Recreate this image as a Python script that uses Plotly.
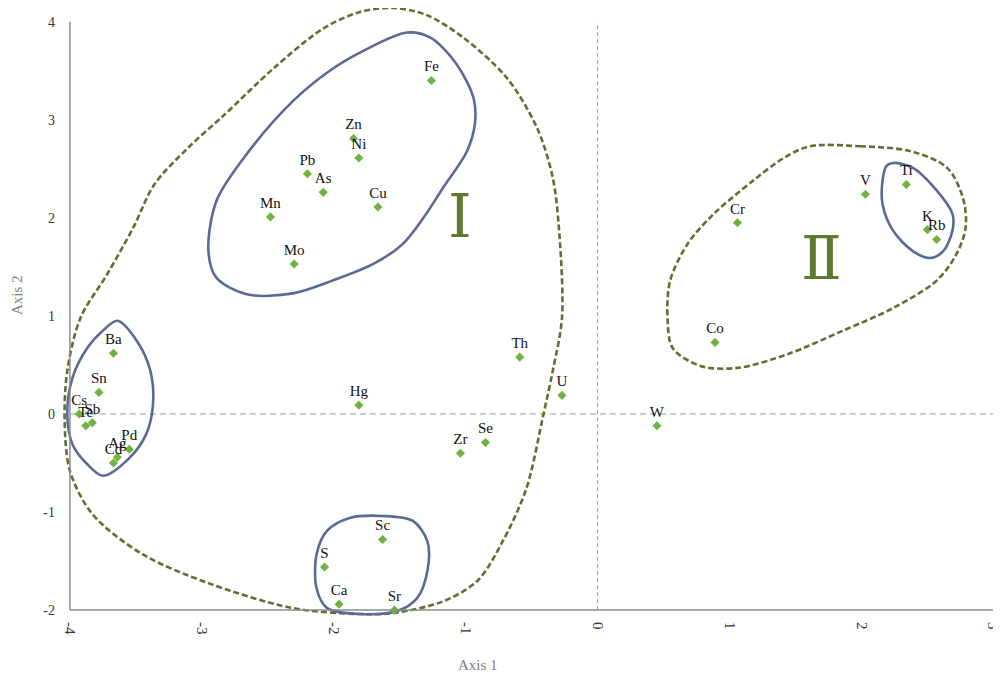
import plotly.graph_objects as go

# Element scores on the first two axes
elements = ['Fe', 'Zn', 'Ni', 'Pb', 'As', 'Cu', 'Mn', 'Mo',
            'Ba', 'Sn', 'Cs', 'Te', 'Sb', 'Pd', 'Ag', 'Cd',
            'Hg', 'Th', 'U', 'Zr', 'Se', 'W',
            'Sc', 'S', 'Ca', 'Sr',
            'Co', 'Cr', 'V', 'Ti', 'K', 'Rb']
axis1 = [-1.26, -1.85, -1.81, -2.20, -2.08, -1.665, -2.48, -2.30,
         -3.67, -3.78, -3.93, -3.88, -3.83, -3.55, -3.64, -3.67,
         -1.81, -0.59, -0.27, -1.04, -0.85, 0.45,
         -1.63, -2.07, -1.96, -1.54,
         0.89, 1.06, 2.03, 2.34, 2.50, 2.57]
axis2 = [3.40, 2.81, 2.61, 2.45, 2.26, 2.11, 2.01, 1.53,
         0.62, 0.22, 0.00, -0.12, -0.09, -0.36, -0.44, -0.50,
         0.09, 0.58, 0.19, -0.40, -0.29, -0.12,
         -1.28, -1.56, -1.94, -2.00,
         0.73, 1.95, 2.24, 2.34, 1.88, 1.78]

# Group outlines (control points, axis units)
group1_x = [-1.55, -1.30, -1.02, -0.69, -0.46, -0.34, -0.29, -0.27, -0.34, -0.41,
            -0.54, -0.72, -0.91, -1.17, -1.55, -1.80, -2.31, -2.94, -3.45, -3.83,
            -4.00, -4.04, -4.02, -3.92, -3.72, -3.52, -3.36, -3.10, -2.83,
            -2.46, -2.08, -1.80]
group1_y = [4.14, 4.07, 3.84, 3.43, 2.92, 2.41, 1.84, 0.98, 0.44, 0.00,
            -0.76, -1.30, -1.70, -1.91, -2.03, -2.04, -1.98, -1.73, -1.43, -1.02,
            -0.58, -0.07, 0.44, 0.98, 1.42, 1.90, 2.34, 2.72, 3.05,
            3.52, 3.93, 4.10]
group2_x = [1.61, 1.99, 2.37, 2.65, 2.77, 2.79, 2.72, 2.57, 2.24, 1.86,
            1.44, 1.06, 0.78, 0.57, 0.53, 0.55, 0.68, 0.88, 1.18, 1.41]
group2_y = [2.73, 2.73, 2.68, 2.51, 2.20, 1.90, 1.63, 1.36, 1.08, 0.85,
            0.61, 0.47, 0.49, 0.67, 0.98, 1.36, 1.73, 2.04, 2.38, 2.61]

upper_x = [-1.445, -1.27, -1.07, -0.94, -0.93, -0.99, -1.17, -1.32, -1.48, -1.70,
           -2.01, -2.31, -2.66, -2.89, -2.95, -2.89, -2.66, -2.31, -2.03, -1.78]
upper_y = [3.89, 3.84, 3.57, 3.22, 2.96, 2.68, 2.31, 2.00, 1.73, 1.53,
           1.36, 1.23, 1.22, 1.39, 1.66, 2.17, 2.65, 3.19, 3.50, 3.70]
left_x = [-3.64, -3.49, -3.39, -3.37, -3.42, -3.55, -3.75, -3.87, -3.98, -4.02,
          -3.98, -3.87, -3.75]
left_y = [0.95, 0.74, 0.44, 0.10, -0.20, -0.45, -0.63, -0.51, -0.31, 0.00,
          0.37, 0.67, 0.85]
bottom_x = [-1.63, -1.40, -1.29, -1.29, -1.37, -1.52, -1.80, -2.05, -2.13, -2.13,
            -2.05, -1.88]
bottom_y = [-1.04, -1.09, -1.30, -1.60, -1.88, -2.01, -2.04, -1.98, -1.78, -1.43,
            -1.19, -1.06]
right_x = [2.24, 2.39, 2.57, 2.69, 2.69, 2.62, 2.52, 2.39, 2.24, 2.16, 2.16, 2.19]
right_y = [2.56, 2.51, 2.28, 2.04, 1.87, 1.66, 1.59, 1.66, 1.87, 2.14, 2.38, 2.53]

x_ticks = [-4, -3, -2, -1, 0, 1, 2, 3]
y_ticks = [-2, -1, 0, 1, 2, 3, 4]

SERIF = 'Liberation Serif'
OLIVE = '#5d7131'
BLUE = '#5b6a94'

# figure size and margins (page body adds an 8px offset)
W, H = 1001, 679
ML, MR, MT, MB = 54, 13, 0, 71

fig = go.Figure()


def outline(xs, ys, color, dash):
    # repeat first point so plotly draws a closed smooth curve
    fig.add_trace(go.Scatter(x=xs + xs[:1], y=ys + ys[:1], mode='lines',
                             line=dict(color=color, width=2.6, dash=dash,
                                       shape='spline', smoothing=0.9),
                             hoverinfo='skip', showlegend=False))


outline(group1_x, group1_y, OLIVE, '6px,3px')
outline(group2_x, group2_y, OLIVE, '6px,3px')
for xs, ys in [(upper_x, upper_y), (left_x, left_y), (bottom_x, bottom_y), (right_x, right_y)]:
    outline(xs, ys, BLUE, 'solid')

fig.add_trace(go.Scatter(
    x=axis1, y=axis2, mode='markers+text', text=elements,
    textposition='top center',
    textfont=dict(family=SERIF, size=15, color='#111111'),
    marker=dict(symbol='diamond', size=7, color='#6db33f'),
    showlegend=False))

# zero reference lines
fig.add_shape(type='line', x0=0, x1=0, y0=-2, y1=4, xref='x', yref='y',
              line=dict(color='#9a9a9a', width=1, dash='4px,3px'), layer='below')
fig.add_shape(type='line', x0=-4, x1=3, y0=0, y1=0, xref='x', yref='y',
              line=dict(color='#9a9a9a', width=1, dash='6px,4px'), layer='below')
# axis lines
fig.add_shape(type='line', x0=-4, x1=-4, y0=-2, y1=4, xref='x', yref='y',
              line=dict(color='#8c8c8c', width=1.5))
fig.add_shape(type='line', x0=-4, x1=3, y0=-2, y1=-2, xref='x', yref='y',
              line=dict(color='#8c8c8c', width=1.5))

# group numerals
fig.add_annotation(x=-1.04, y=2.02, text='Ⅰ', showarrow=False,
                   font=dict(family='DejaVu Serif', size=60, color='#5e7a2e'))
fig.add_annotation(x=1.70, y=1.59, text='Ⅱ', showarrow=False,
                   font=dict(family='DejaVu Serif', size=60, color='#5e7a2e'))

# axis titles (positions in figure pixels, converted below)
fig.add_annotation(x=470, y=667, xref='paper', yref='paper', text='Axis 1', showarrow=False,
                   font=dict(family=SERIF, size=15, color='#808080'))
fig.add_annotation(x=-1, y=287, text='Axis 2', showarrow=False, textangle=-90,
                   xref='paper', yref='paper',
                   font=dict(family=SERIF, size=15, color='#808080'))

fig.update_xaxes(range=[-4.06, 3.02], tickvals=x_ticks,
                 ticktext=[str(v) for v in x_ticks], tickangle=90,
                 showgrid=False, zeroline=False, showline=False, automargin=False,
                 ticklabelstandoff=5,
                 tickfont=dict(family=SERIF, size=15, color='#333333'))
fig.update_yaxes(range=[-2.06, 4.14], tickvals=y_ticks,
                 ticktext=[str(v) for v in y_ticks],
                 showgrid=False, zeroline=False, showline=False, automargin=False,
                 ticklabelstandoff=6,
                 tickfont=dict(family=SERIF, size=14, color='#333333'))

fig.update_layout(width=W, height=H,
                  margin=dict(l=ML, r=MR, t=MT, b=MB, autoexpand=False),
                  plot_bgcolor='white', paper_bgcolor='white')

pw, ph = W - ML - MR, H - MT - MB
for ann in fig.layout.annotations:
    if ann.xref == 'paper':
        ann.x = (ann.x - ML) / pw
        ann.y = (H - MB - ann.y) / ph

fig.write_html('out.html')
